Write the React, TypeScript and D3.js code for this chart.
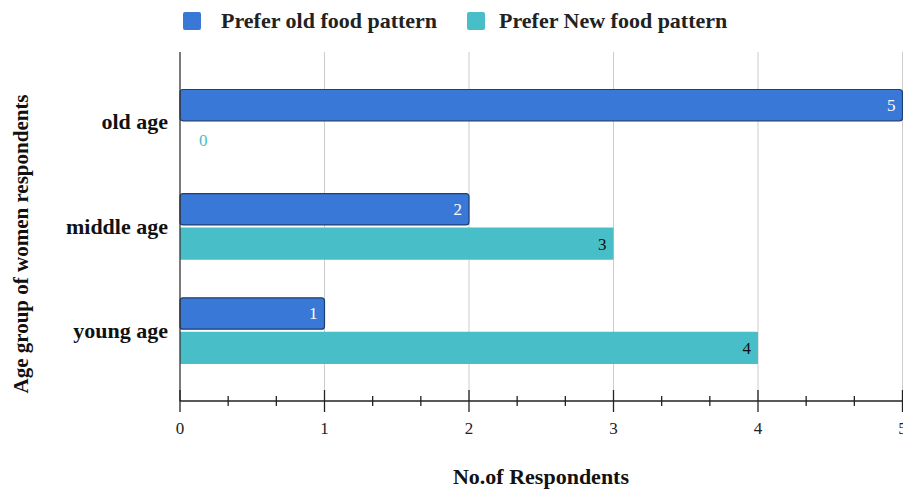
import * as d3 from 'd3';

const categories = ['old age', 'middle age', 'young age'];
const seriesNames = ['Prefer old food pattern', 'Prefer New food pattern'];
const oldPattern = [5, 2, 1];
const newPattern = [0, 3, 4];
const xTicks = [0, 1, 2, 3, 4, 5];

const width = 903;
const height = 489;
const margin = { top: 52, right: 0, bottom: 88, left: 180 };
const colors = ['#3a78d8', '#47bec8'];
const font = '"Liberation Serif", "Times New Roman", serif';

export default function App() {
    const x = d3.scaleLinear().domain([0, 5]).range([margin.left, width - 0.5]);
    const y = d3
        .scaleBand<string>()
        .domain(categories)
        .range([margin.top, height - margin.bottom])
        .paddingInner(0.36)
        .paddingOuter(0.355);
    const sub = d3.scaleBand<number>().domain([0, 1]).range([0, y.bandwidth()]).paddingInner(0.06);
    const series = [oldPattern, newPattern];
    const minor = d3.range(0, 5.001, 1 / 3);
    const axisY = height - margin.bottom;

    return (
        <svg
            width={width}
            height={height}
            style={{ position: 'absolute', left: 0, top: 0, background: '#fff' }}
            fontFamily={font}
        >
            {/* legend */}
            {seriesNames.map((name, i) => {
                const lx = i === 0 ? 183 : 467;
                const tx = i === 0 ? 221 : 499;
                return (
                    <g key={name}>
                        <rect x={lx} y={12} width={18} height={18} rx={2} fill={colors[i]} />
                        <text x={tx} y={28} fontSize={22} fontWeight="bold" fill="#222">
                            {name}
                        </text>
                    </g>
                );
            })}

            {/* grid */}
            {xTicks.slice(1).map((t) => (
                <line
                    key={t}
                    x1={x(t)}
                    x2={x(t)}
                    y1={margin.top}
                    y2={axisY}
                    stroke="#cccccc"
                    strokeWidth={1}
                />
            ))}

            {/* bars */}
            {categories.map((c, ci) =>
                series.map((vals, si) => {
                    const v = vals[ci];
                    const by = (y(c) ?? 0) + (sub(si) ?? 0);
                    const bh = sub.bandwidth();
                    const bw = x(v) - x(0);
                    const isOld = si === 0;
                    const inside = bw > 30;
                    return (
                        <g key={c + si}>
                            {bw > 0 && (
                                <rect
                                    x={x(0)}
                                    y={by + (isOld ? 0.5 : 0)}
                                    width={bw}
                                    height={bh - (isOld ? 1 : 0)}
                                    rx={isOld ? 3 : 1}
                                    fill={colors[si]}
                                    stroke={isOld ? '#1d3f73' : 'none'}
                                    strokeWidth={1.2}
                                />
                            )}
                            <text
                                x={inside ? x(v) - 7 : x(v) + 19}
                                y={by + bh / 2 + 6}
                                textAnchor={inside ? 'end' : 'start'}
                                fontSize={17}
                                fill={inside ? (isOld ? '#ffffff' : '#111') : colors[si]}
                            >
                                {v}
                            </text>
                        </g>
                    );
                }),
            )}

            {/* axes */}
            <line x1={x(0)} x2={x(0)} y1={margin.top} y2={axisY} stroke="#333" strokeWidth={1.3} />
            <line x1={x(0)} x2={width} y1={axisY} y2={axisY} stroke="#222" strokeWidth={1.3} />
            {minor.map((t, i) => {
                const major = i % 3 === 0;
                return (
                    <line
                        key={i}
                        x1={x(t)}
                        x2={x(t)}
                        y1={axisY - (major ? 11 : 5)}
                        y2={axisY + (major ? 11 : 5)}
                        stroke="#222"
                        strokeWidth={1.3}
                    />
                );
            })}
            {xTicks.map((t) => (
                <text key={t} x={x(t)} y={434} textAnchor="middle" fontSize={17} fill="#222">
                    {t}
                </text>
            ))}

            {/* category labels */}
            {categories.map((c) => (
                <text
                    key={c}
                    x={168}
                    y={(y(c) ?? 0) + y.bandwidth() / 2 + 7}
                    textAnchor="end"
                    fontSize={22}
                    fontWeight="bold"
                    fill="#111"
                >
                    {c}
                </text>
            ))}

            {/* titles */}
            <text x={541} y={484} textAnchor="middle" fontSize={22} fontWeight="bold" fill="#111">
                No.of Respondents
            </text>
            <text
                transform="translate(28,244) rotate(-90)"
                textAnchor="middle"
                fontSize={21}
                fontWeight="bold"
                fill="#111"
            >
                Age group of women respondents
            </text>
        </svg>
    );
}
